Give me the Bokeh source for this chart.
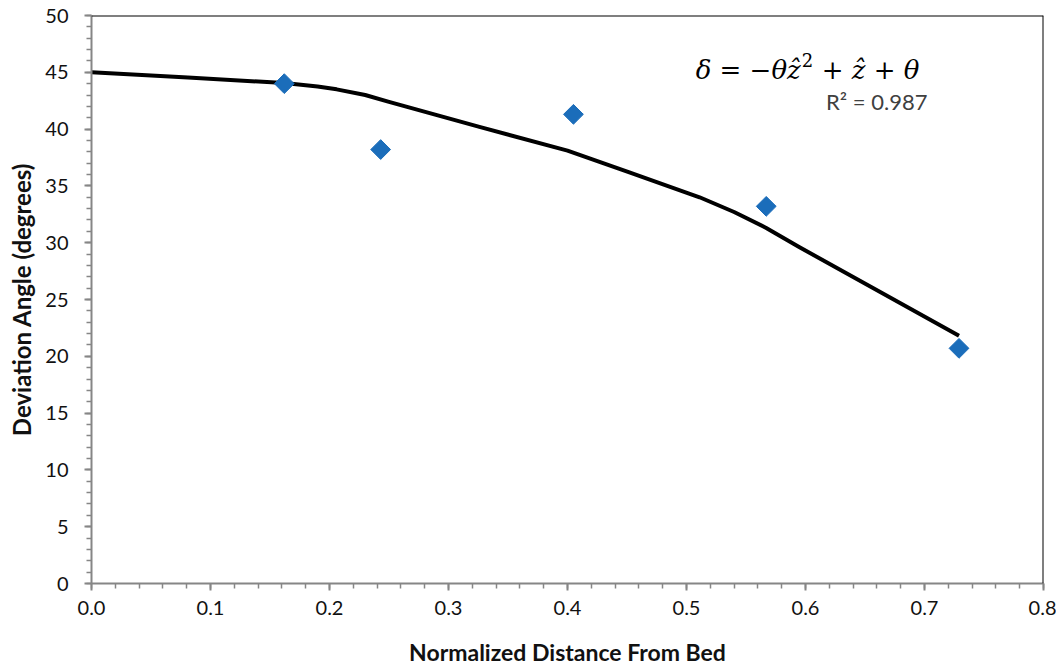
from bokeh.plotting import figure
from bokeh.models import (ColumnDataSource, SingleIntervalTicker, PrintfTickFormatter,
                          Span, Label, Range1d)
from bokeh.embed import file_html
from bokeh.resources import INLINE
import math

# Measured points
meas_x = [0.162, 0.243, 0.405, 0.567, 0.729]
meas_y = [44.0, 38.2, 41.3, 33.2, 20.7]

# Fitted curve
fit_x = [0.0, 0.081, 0.162, 0.19, 0.206, 0.23, 0.25, 0.326, 0.40, 0.452, 0.511, 0.54, 0.567, 0.595, 0.662, 0.729]
fit_y = [45.0, 44.55, 44.05, 43.75, 43.5, 43.0, 42.4, 40.2, 38.1, 36.2, 34.0, 32.7, 31.3, 29.6, 25.7, 21.8]

eq_left = "δ = −θẑ"
eq_sup = "2"
eq_right = "+ ẑ + θ"
r2_text = "R² = 0.987"
x_title = "Normalized Distance From Bed"
y_title = "Deviation Angle (degrees)"

p = figure(width=1056, height=668, output_backend="svg", toolbar_location=None,
           x_range=Range1d(0, 0.8), y_range=Range1d(0, 50),
           min_border_left=91, min_border_right=13, min_border_top=15, min_border_bottom=80)
p.outline_line_color = None
p.xgrid.visible = False
p.ygrid.visible = False
p.background_fill_color = "white"

axis_gray = "#868686"
for ax in (p.xaxis[0], p.yaxis[0]):
    ax.axis_line_color = axis_gray
    ax.axis_line_width = 2
    ax.major_tick_line_color = axis_gray
    ax.minor_tick_line_color = axis_gray
    ax.major_tick_line_width = 2
    ax.minor_tick_line_width = 1.5
    ax.major_tick_in = 0
    ax.major_tick_out = 7
    ax.minor_tick_in = 0
    ax.minor_tick_out = 5
    ax.major_label_text_font = "Lato"
    ax.major_label_text_font_size = "20px"
    ax.major_label_text_color = "#111111"
    ax.axis_label_text_font = "Lato"
    ax.axis_label_text_font_style = "bold"
    ax.axis_label_text_color = "#111111"

p.xaxis.axis_label_text_font_size = "23px"
p.yaxis.axis_label_text_font_size = "24px"
p.xaxis.ticker = SingleIntervalTicker(interval=0.1, num_minor_ticks=5)
p.xaxis.formatter = PrintfTickFormatter(format="%.1f")
p.yaxis.ticker = SingleIntervalTicker(interval=5, num_minor_ticks=5)
p.xaxis.axis_label = x_title
p.yaxis.axis_label = y_title
p.xaxis.major_label_standoff = 10
p.yaxis.major_label_standoff = 16
p.xaxis.axis_label_standoff = 20
p.yaxis.axis_label_standoff = 6

# black top and right frame lines
p.add_layout(Span(location=0.8, dimension="height", line_color="black", line_width=2))
p.add_layout(Span(location=50, dimension="width", line_color="black", line_width=2))

fit_src = ColumnDataSource(dict(x=fit_x, y=fit_y))
p.line("x", "y", source=fit_src, line_color="black", line_width=4, line_join="round")

meas_src = ColumnDataSource(dict(x=meas_x, y=meas_y))
p.scatter("x", "y", source=meas_src, marker="square", size=14, angle=math.pi / 4,
          fill_color="#1b6dba", line_color="#1b6dba")

eq_x, eq_y = 0.596, 45.2
p.add_layout(Label(x=eq_x, y=eq_y, text=eq_left, text_font="DejaVu Serif",
                   text_font_style="italic", text_font_size="26px", text_color="black",
                   text_align="right", text_baseline="middle"))
p.add_layout(Label(x=eq_x, y=eq_y, x_offset=1, y_offset=10, text=eq_sup, text_font="DejaVu Serif",
                   text_font_size="18px", text_color="black",
                   text_align="left", text_baseline="middle"))
p.add_layout(Label(x=eq_x, y=eq_y, x_offset=21, text=eq_right, text_font="DejaVu Serif",
                   text_font_style="italic", text_font_size="26px", text_color="black",
                   text_align="left", text_baseline="middle"))
p.add_layout(Label(x=0.7025, y=42.4, text=r2_text, text_font="Lato",
                   text_font_size="22px", text_color="#404040",
                   text_align="right", text_baseline="middle"))

open("out.html", "w").write(file_html(p, INLINE))
